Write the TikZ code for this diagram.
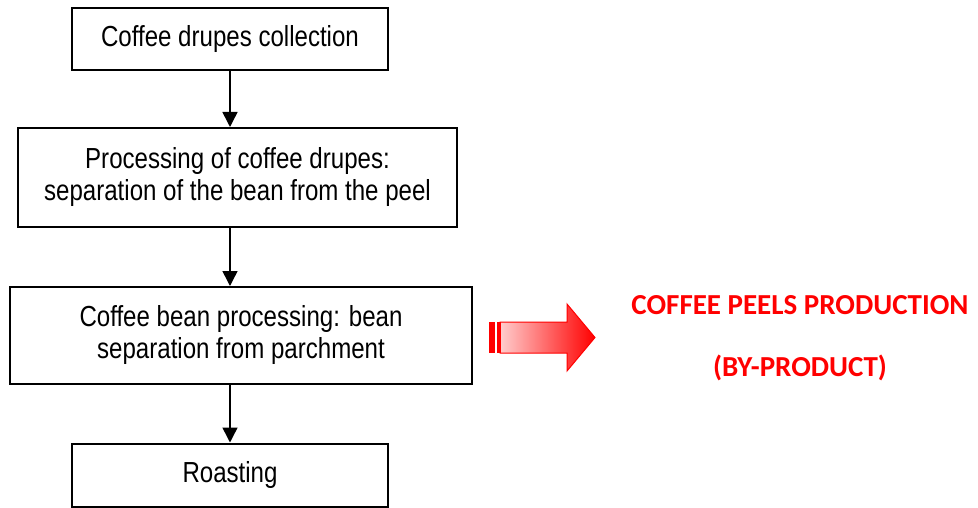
\documentclass[tikz,border=0pt]{standalone}
\usepackage{fontspec}
\setmainfont{Liberation Sans}
\newfontfamily\narrowfont[FakeStretch=0.83]{Liberation Sans}
\newfontfamily\calfont{Carlito}
\usetikzlibrary{arrows.meta}
\definecolor{pinkstart}{RGB}{255,205,205}
\tikzset{
  stepbox/.style={draw=black, line width=2pt, rectangle, align=center,
    font=\narrowfont\fontsize{29}{32}\selectfont, inner sep=0pt},
  flow/.style={line width=1.5pt, -{Triangle[length=15pt,width=15pt]}},
  redtext/.style={text=red, font=\calfont\bfseries\fontsize{29}{34}\selectfont, anchor=base}
}
\begin{document}
\begin{tikzpicture}[x=1pt,y=-1pt]
\useasboundingbox (0,0) rectangle (978,508);
\node[stepbox, minimum width=316pt, minimum height=62pt] (b1) at (230,39) {Coffee drupes collection};
\node[stepbox, minimum width=439pt, minimum height=99pt] (b2) at (237.5,177.5) {Processing of coffee drupes:\\separation of the bean from the peel};
\node[stepbox, minimum width=462pt, minimum height=97pt] (b3) at (241,335.5) {Coffee bean processing: bean\\separation from parchment};
\node[stepbox, minimum width=316pt, minimum height=63pt] (b4) at (230,475) {Roasting};
\draw[flow] (b1.south) -- (b1.south |- b2.north);
\draw[flow] (b2.south -| b1.south) -- (b1.south |- b3.north);
\draw[flow] (b3.south -| b1.south) -- (b1.south |- b4.north);
% red block arrow
\shade[left color=pinkstart, right color=red, draw=red, line width=1pt]
  (500,322) -- (567,322) -- (567,304) -- (595,337.5) -- (567,371) -- (567,353) -- (500,353) -- cycle;
\fill[red] (489,322) rectangle (495,353);
\fill[red] (496.8,322) rectangle (501,353);
\node[redtext] (t1) at (800,314) {COFFEE PEELS PRODUCTION};
\node[redtext] (t2) at (800,376) {(BY-PRODUCT)};
\end{tikzpicture}
\end{document}
